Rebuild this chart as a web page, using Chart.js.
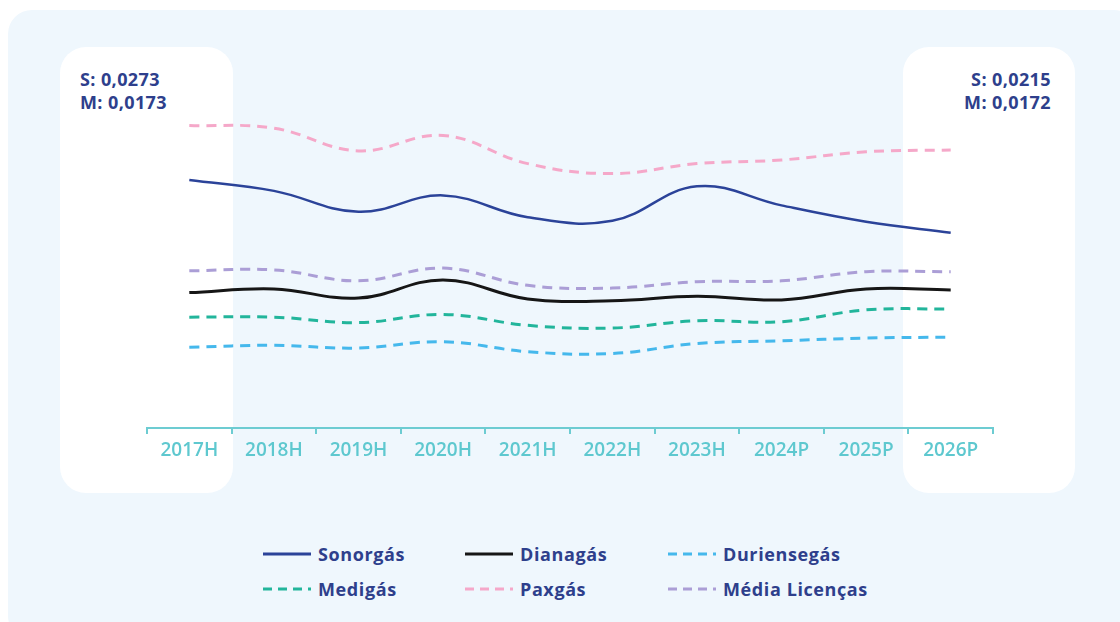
<!DOCTYPE html>
<html>
<head>
<meta charset="utf-8">
<script src="https://cdn.jsdelivr.net/npm/chart.js@4.4.1/dist/chart.umd.min.js"></script>
<style>
  body { margin: 0; background: #fff; font-family: "Open Sans", sans-serif; }
  #wrap { position: relative; width: 1120px; height: 622px; overflow: hidden; }
  .panel { position: absolute; left: 8px; top: 10px; width: 1130px; height: 630px; background: #eff7fd; border-radius: 24px; }
  .box { position: absolute; top: 47px; height: 446px; background: #fff; border-radius: 26px; }
  #boxL { left: 60px; width: 173px; }
  #boxR { left: 903px; width: 172px; }
  .note { position: absolute; top: 68px; color: #2e3f8c; font-weight: 700; font-size: 18px; line-height: 23px; letter-spacing: 0.4px; }
  #noteL { left: 80px; }
  #noteR { right: 69px; text-align: right; }
  #c { position: absolute; left: 0; top: 0; }
  #legend { position: absolute; left: 263px; top: 536px; display: grid;
            grid-template-columns: 202px 203px 240px; grid-auto-rows: 35px; }
  .item { display: flex; align-items: center; color: #2e3f8c; font-weight: 700; font-size: 18px; letter-spacing: 0.6px; }
  .item svg { margin-right: 7px; }
</style>
</head>
<body>
<div id="wrap">
  <div class="panel"></div>
  <div class="box" id="boxL"></div>
  <div class="box" id="boxR"></div>
  <div class="note" id="noteL"></div>
  <div class="note" id="noteR"></div>
  <canvas id="c" width="1120" height="470"></canvas>
  <div id="legend"></div>
</div>
<script>
const anos = ['2017H', '2018H', '2019H', '2020H', '2021H', '2022H', '2023H', '2024P', '2025P', '2026P'];

const sonorgas    = [0.0273, 0.0261, 0.0238, 0.0256, 0.0232, 0.0228, 0.0266, 0.0245, 0.0227, 0.0215];
const dianagas    = [0.0149, 0.0153, 0.0143, 0.0163, 0.0142, 0.0140, 0.0145, 0.0141, 0.0153, 0.0152];
const duriensegas = [0.0089, 0.0091, 0.0088, 0.0095, 0.0084, 0.0082, 0.0093, 0.0096, 0.0099, 0.0100];
const medigas     = [0.0122, 0.0122, 0.0116, 0.0125, 0.0113, 0.0110, 0.0118, 0.0117, 0.0130, 0.0131];
const paxgas      = [0.0333, 0.0330, 0.0305, 0.0322, 0.0291, 0.0280, 0.0291, 0.0295, 0.0304, 0.0306];
const mediaLic    = [0.0173, 0.0174, 0.0162, 0.0176, 0.0157, 0.0154, 0.0161, 0.0162, 0.0172, 0.0172];

const fmt = v => v.toFixed(4).replace('.', ',');
document.getElementById('noteL').innerHTML = 'S: ' + fmt(sonorgas[0]) + '<br>M: ' + fmt(mediaLic[0]);
document.getElementById('noteR').innerHTML = 'S: ' + fmt(sonorgas[sonorgas.length - 1]) + '<br>M: ' + fmt(mediaLic[mediaLic.length - 1]);

const dash = [10, 7];
const serie = (label, data, color, dashed, width) => ({
  label, data,
  borderColor: color,
  borderWidth: width,
  borderDash: dashed ? dash : [],
  pointRadius: 0,
  fill: false,
  tension: 0.4
});

const chart = new Chart(document.getElementById('c').getContext('2d'), {
  type: 'line',
  data: {
    labels: anos,
    datasets: [
      serie('Sonorgás', sonorgas, '#2b4399', false, 2.5),
      serie('Dianagás', dianagas, '#161616', false, 3),
      serie('Duriensegás', duriensegas, '#45b8ec', true, 3),
      serie('Medigás', medigas, '#22b59b', true, 3),
      serie('Paxgás', paxgas, '#f5a8c9', true, 3),
      serie('Média Licenças', mediaLic, '#ab9ed6', true, 3)
    ]
  },
  options: {
    responsive: false,
    animation: false,
    layout: { padding: { left: 147, right: 127, top: 110, bottom: 2 } },
    plugins: { legend: { display: false }, tooltip: { enabled: false } },
    scales: {
      y: { display: false, min: 0, max: 0.035 },
      x: {
        offset: true,
        afterFit: s => { s.height = 40; },
        border: { display: true, color: '#6dccd2', width: 2 },
        grid: { offset: true, drawOnChartArea: false, drawTicks: true, tickLength: 6, color: '#6dccd2', lineWidth: 2 },
        ticks: { color: '#5ec8cf', padding: 5, font: { family: 'Open Sans', size: 19, weight: '600' } }
      }
    }
  }
});

// legenda em HTML, tres colunas
const leg = document.getElementById('legend');
chart.data.datasets.forEach(ds => {
  const dashed = ds.borderDash.length > 0;
  const it = document.createElement('div');
  it.className = 'item';
  it.innerHTML = '<svg width="48" height="6"><line x1="0" y1="3" x2="48" y2="3" stroke="' + ds.borderColor +
    '" stroke-width="3"' + (dashed ? ' stroke-dasharray="9 6"' : '') + '/></svg>' + ds.label;
  leg.appendChild(it);
});
</script>
</body>
</html>
